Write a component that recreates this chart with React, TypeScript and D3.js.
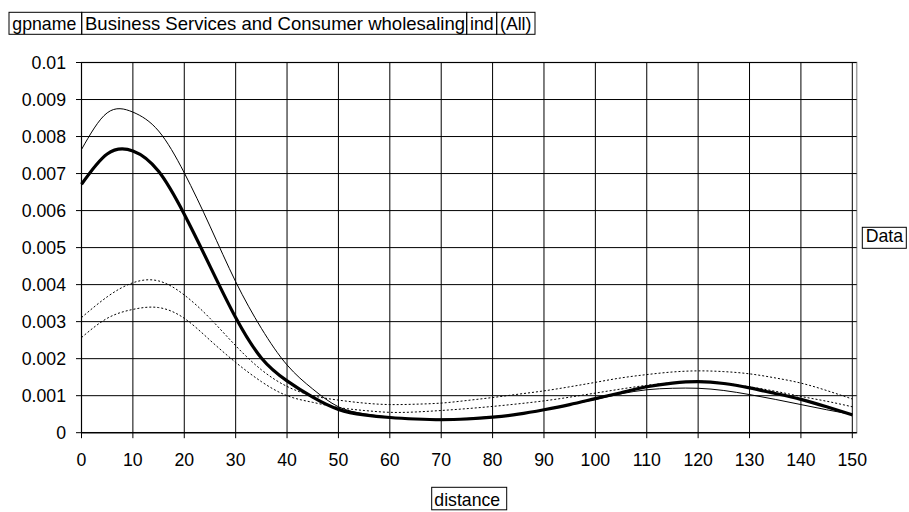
import React from "react";
import * as d3 from "d3";

const distance = [0,5,10,15,20,25,30,35,40,45,50,55,60,65,70,75,80,85,90,95,100,105,110,115,120,125,130,135,140,145,150];
const dataThick = [0.00671,0.00753,0.00761,0.00706,0.00590,0.00450,0.00311,0.00202,0.00140,0.00096,0.00063,0.00048,0.00041,0.00037,0.00035,0.00037,0.00042,0.00050,0.00062,0.00076,0.00092,0.00108,0.00124,0.00134,0.00138,0.00133,0.00121,0.00106,0.00090,0.00070,0.00048];
const dataThin = [0.00765,0.00864,0.00866,0.00815,0.00702,0.00558,0.00408,0.00282,0.00183,0.00118,0.00070,0.00051,0.00042,0.00038,0.00037,0.00039,0.00043,0.00050,0.00061,0.00075,0.00090,0.00105,0.00116,0.00120,0.00120,0.00114,0.00103,0.00090,0.00076,0.00062,0.00049];
const dataUpperDot = [0.00311,0.00367,0.00405,0.00410,0.00372,0.00309,0.00235,0.00170,0.00125,0.00100,0.00088,0.00080,0.00076,0.00077,0.00080,0.00087,0.00095,0.00104,0.00113,0.00124,0.00136,0.00148,0.00157,0.00164,0.00167,0.00165,0.00159,0.00148,0.00134,0.00114,0.00091];
const dataLowerDot = [0.00257,0.00309,0.00333,0.00338,0.00309,0.00250,0.00190,0.00138,0.00100,0.00082,0.00068,0.00060,0.00055,0.00056,0.00060,0.00065,0.00071,0.00078,0.00086,0.00096,0.00107,0.00118,0.00128,0.00135,0.00139,0.00134,0.00124,0.00112,0.00098,0.00085,0.00070];

const xTicks = [0,10,20,30,40,50,60,70,80,90,100,110,120,130,140,150];
const yTicks = [0,0.001,0.002,0.003,0.004,0.005,0.006,0.007,0.008,0.009,0.01];
const yTickLabels = ["0","0.001","0.002","0.003","0.004","0.005","0.006","0.007","0.008","0.009","0.01"];
const headerTexts = ["gpname","Business Services and Consumer wholesaling","ind","(All)"];
const legendLabel = "Data";
const xTitle = "distance";

const FONT = "'Liberation Sans', Arial, Helvetica, sans-serif";
const FS = 17.7;

export default function App() {
  const left = 81.5, right = 856.7, top = 62.5, bottom = 432.7;
  const x = d3.scaleLinear().domain([0, 150]).range([left, 852.3]);
  const y = d3.scaleLinear().domain([0, 0.01]).range([bottom, top]);
  const mk = (vals: number[]) =>
    d3.line<number>()
      .x((_, i) => x(distance[i]))
      .y((v) => y(v))
      .curve(d3.curveNatural)(vals) || "";

  const headerEdges = [9, 81.7, 466.7, 496.7, 535];

  return (
    <svg width={909} height={512} style={{ position: "absolute", left: 0, top: 0, background: "#fff" }}
      fontFamily={FONT} fontSize={FS}>
      <rect x={0} y={0} width={909} height={512} fill="#fff" />
      {/* header fields */}
      {headerTexts.map((t, i) => (
        <g key={t}>
          <rect x={headerEdges[i]} y={12.3} width={headerEdges[i + 1] - headerEdges[i]} height={22}
            fill="none" stroke="#000" strokeWidth={1} />
          <text x={headerEdges[i] + 3.3} y={30} fill="#000"
            textLength={i === 1 ? headerEdges[2] - headerEdges[1] - 5 : undefined}
            lengthAdjust="spacingAndGlyphs">{t}</text>
        </g>
      ))}
      {/* plot border */}
      <rect x={left} y={top} width={right - left} height={bottom - top} fill="#fff" stroke="#a0a0a0" strokeWidth={1.5} />
      {/* horizontal gridlines */}
      {yTicks.map((t) => (
        <line key={"h" + t} x1={left} x2={right} y1={y(t)} y2={y(t)} stroke="#000" strokeWidth={1} />
      ))}
      {/* vertical gridlines & ticks */}
      {xTicks.map((t) => (
        <line key={"v" + t} x1={x(t)} x2={x(t)} y1={top} y2={bottom + 5.5} stroke="#000" strokeWidth={1} />
      ))}
      {/* y axis ticks */}
      {yTicks.map((t) => (
        <line key={"yt" + t} x1={left - 5.5} x2={left} y1={y(t)} y2={y(t)} stroke="#000" strokeWidth={1} />
      ))}
      <line x1={left} x2={left} y1={top} y2={bottom} stroke="#000" strokeWidth={1} />
      <line x1={left} x2={right} y1={bottom} y2={bottom} stroke="#000" strokeWidth={1.3} />
      {/* y labels */}
      {yTicks.map((t, i) => (
        <text key={"yl" + t} x={66} y={y(t) + 6.4} textAnchor="end" fill="#000">{yTickLabels[i]}</text>
      ))}
      {/* x labels */}
      {xTicks.map((t) => (
        <text key={"xl" + t} x={x(t)} y={466} textAnchor="middle" fill="#000">{t}</text>
      ))}
      {/* series */}
      <path d={mk(dataUpperDot)} fill="none" stroke="#000" strokeWidth={1} strokeDasharray="2,2" />
      <path d={mk(dataLowerDot)} fill="none" stroke="#000" strokeWidth={1} strokeDasharray="2,2" />
      <path d={mk(dataThin)} fill="none" stroke="#000" strokeWidth={1} />
      <path d={mk(dataThick)} fill="none" stroke="#000" strokeWidth={3.2} />
      {/* legend */}
      <rect x={862.3} y={227.3} width={44} height={21} fill="#fff" stroke="#000" strokeWidth={1} />
      <text x={865.7} y={242} fill="#000">{legendLabel}</text>
      {/* x title */}
      <rect x={431.7} y={487.3} width={75} height={22.5} fill="#fff" stroke="#000" strokeWidth={1} />
      <text x={434.3} y={506} fill="#000">{xTitle}</text>
    </svg>
  );
}
